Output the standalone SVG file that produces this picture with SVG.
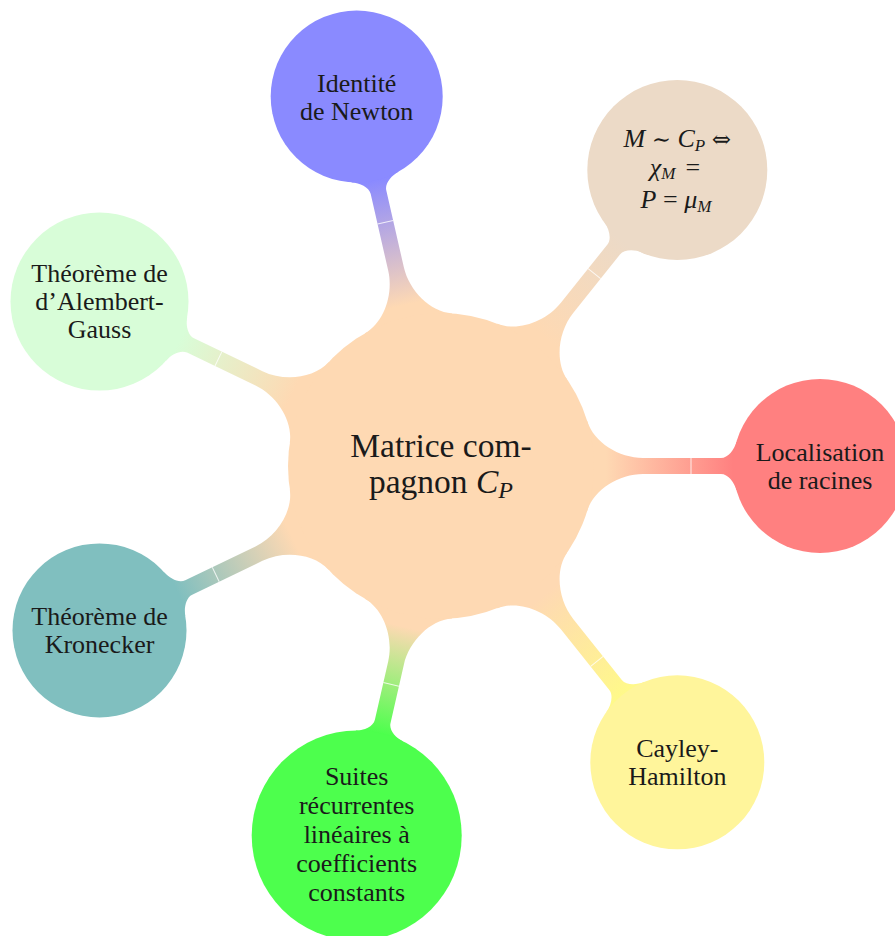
<svg xmlns="http://www.w3.org/2000/svg" width="895" height="936" viewBox="0 0 895 936">
<style>
.t{font-family:"Liberation Serif","DejaVu Serif",serif;font-size:26px;fill:#1a1a1a;text-anchor:middle}
.c{font-size:33.5px}
.i{font-style:italic}
.s{font-size:17px;font-style:italic}
.sym{font-family:"DejaVu Serif",serif;font-size:23px}
.seam{stroke:#ffffff;stroke-width:1;stroke-opacity:0.8;fill:none}
</style>
<defs>
<linearGradient id="gRed" gradientUnits="userSpaceOnUse" x1="165" y1="0" x2="292" y2="0"><stop offset="0" stop-color="#FED9B3"/><stop offset="1" stop-color="#FF8080"/></linearGradient>
<linearGradient id="gTan" gradientUnits="userSpaceOnUse" x1="165" y1="0" x2="289" y2="0"><stop offset="0" stop-color="#FED9B3"/><stop offset="1" stop-color="#ECDAC7"/></linearGradient>
<linearGradient id="gNew" gradientUnits="userSpaceOnUse" x1="165" y1="0" x2="293" y2="0"><stop offset="0" stop-color="#FED9B3"/><stop offset="1" stop-color="#8A8AFF"/></linearGradient>
<linearGradient id="gDal" gradientUnits="userSpaceOnUse" x1="165" y1="0" x2="290" y2="0"><stop offset="0" stop-color="#FED9B3"/><stop offset="1" stop-color="#D8FDD8"/></linearGradient>
<linearGradient id="gTea" gradientUnits="userSpaceOnUse" x1="165" y1="0" x2="292" y2="0"><stop offset="0" stop-color="#FED9B3"/><stop offset="1" stop-color="#80BFBF"/></linearGradient>
<linearGradient id="gGre" gradientUnits="userSpaceOnUse" x1="165" y1="0" x2="274" y2="0"><stop offset="0" stop-color="#FED9B3"/><stop offset="1" stop-color="#4DFF4D"/></linearGradient>
<linearGradient id="gYel" gradientUnits="userSpaceOnUse" x1="165" y1="0" x2="292" y2="0"><stop offset="0" stop-color="#FED9B3"/><stop offset="1" stop-color="#FFF98A"/></linearGradient>
</defs>

<g id="connectors">
  <g transform="translate(441 466) rotate(0)">
    <path fill="url(#gRed)" d="M100,-44 L146.3,-44.7 C152.7,-23.7 178,-8 202,-8 L280,-8 C287,-8 293.2,-16.3 295.4,-24 L330,-24 L330,24 L295.4,24 C293.2,16.3 287,8 280,8 L202,8 C178,8 152.7,23.7 146.3,44.7 L100,44 Z"/>
    <line class="seam" x1="250" y1="-8" x2="250" y2="8"/>
  </g>
  <g transform="translate(441 466) rotate(-51.43)">
    <path fill="url(#gTan)" d="M100,-44 L146.3,-44.7 C152.7,-23.7 178,-8 202,-8 L277,-8 C284,-8 290.2,-16.3 292.3,-24 L330,-24 L330,24 L292.3,24 C290.2,16.3 284,8 277,8 L202,8 C178,8 152.7,23.7 146.3,44.7 L100,44 Z"/>
    <line class="seam" x1="246" y1="-8" x2="246" y2="8"/>
  </g>
  <g transform="translate(441 466) rotate(-102.86)">
    <path fill="url(#gNew)" d="M100,-44 L146.3,-44.7 C152.7,-23.7 178,-8 202,-8 L281,-8 C288,-8 294.2,-16.3 296.4,-24 L330,-24 L330,24 L296.4,24 C294.2,16.3 288,8 281,8 L202,8 C178,8 152.7,23.7 146.3,44.7 L100,44 Z"/>
    <line class="seam" x1="250" y1="-8" x2="250" y2="8"/>
  </g>
  <g transform="translate(441 466) rotate(-154.29)">
    <path fill="url(#gDal)" d="M100,-44 L146.3,-44.7 C152.7,-23.7 178,-8 202,-8 L278,-8 C285,-8 291.2,-16.3 293.3,-24 L330,-24 L330,24 L293.3,24 C291.2,16.3 285,8 278,8 L202,8 C178,8 152.7,23.7 146.3,44.7 L100,44 Z"/>
    <line class="seam" x1="247" y1="-8" x2="247" y2="8"/>
  </g>
  <g transform="translate(441 466) rotate(154.29)">
    <path fill="url(#gTea)" d="M100,-44 L146.3,-44.7 C152.7,-23.7 178,-8 202,-8 L280,-8 C287,-8 293.2,-16.3 295.4,-24 L330,-24 L330,24 L295.4,24 C293.2,16.3 287,8 280,8 L202,8 C178,8 152.7,23.7 146.3,44.7 L100,44 Z"/>
    <line class="seam" x1="250" y1="-8" x2="250" y2="8"/>
  </g>
  <g transform="translate(441 466) rotate(102.86)">
    <path fill="url(#gGre)" d="M100,-44 L146.3,-44.7 C152.7,-23.7 178,-8 202,-8 L262,-8 C269,-8 275,-16.2 276.8,-24 L320,-24 L320,24 L276.8,24 C275,16.2 269,8 262,8 L202,8 C178,8 152.7,23.7 146.3,44.7 L100,44 Z"/>
    <line class="seam" x1="224" y1="-8" x2="224" y2="8"/>
  </g>
  <g transform="translate(441 466) rotate(51.43)">
    <path fill="url(#gYel)" d="M100,-44 L146.3,-44.7 C152.7,-23.7 178,-8 202,-8 L280,-8 C287,-8 293.2,-16.3 295.4,-24 L330,-24 L330,24 L295.4,24 C293.2,16.3 287,8 280,8 L202,8 C178,8 152.7,23.7 146.3,44.7 L100,44 Z"/>
    <line class="seam" x1="250" y1="-8" x2="250" y2="8"/>
  </g>
</g>

<g id="root">
  <circle cx="441" cy="466" r="153" fill="#FED9B3"/>
  <text class="t c" x="441" y="457">Matrice com-</text>
  <text class="t c" x="441" y="493">pagnon <tspan class="i">C</tspan><tspan class="i" font-size="24" dy="5">P</tspan></text>
</g>

<g id="newton">
  <circle cx="356.7" cy="96.5" r="86" fill="#8A8AFF"/>
  <text class="t" x="356.7" y="92">Identité</text>
  <text class="t" x="356.7" y="120">de Newton</text>
</g>

<g id="similitude">
  <circle cx="677.3" cy="170" r="90" fill="#ECDAC7"/>
  <text class="t" x="677.3" y="147"><tspan class="i">M</tspan> <tspan class="sym">∼</tspan> <tspan class="i">C</tspan><tspan class="s" dy="4">P</tspan><tspan dy="-4"> </tspan><tspan class="sym">⇔</tspan></text>
  <text class="t" x="675" y="176"><tspan class="i">χ</tspan><tspan class="s" dy="3">M</tspan><tspan dy="-3" dx="10">=</tspan></text>
  <text class="t" x="676" y="208"><tspan class="i">P</tspan> = <tspan class="i">μ</tspan><tspan class="s" dy="4">M</tspan></text>
</g>

<g id="localisation">
  <circle cx="820" cy="466" r="87" fill="#FF8080"/>
  <text class="t" x="820" y="461">Localisation</text>
  <text class="t" x="820" y="489">de racines</text>
</g>

<g id="cayley">
  <circle cx="677.3" cy="762.3" r="87" fill="#FFF59B"/>
  <text class="t" x="677.3" y="757">Cayley-</text>
  <text class="t" x="677.3" y="785">Hamilton</text>
</g>

<g id="suites">
  <circle cx="356.7" cy="835.5" r="105" fill="#4DFF4D"/>
  <text class="t" x="356.7" y="785">Suites</text>
  <text class="t" x="356.7" y="814">récurrentes</text>
  <text class="t" x="356.7" y="843">linéaires à</text>
  <text class="t" x="356.7" y="872">coefficients</text>
  <text class="t" x="356.7" y="901">constants</text>
</g>

<g id="kronecker">
  <circle cx="99.5" cy="630.4" r="87" fill="#80BFBF"/>
  <text class="t" x="99.5" y="625">Théorème de</text>
  <text class="t" x="99.5" y="653">Kronecker</text>
</g>

<g id="dalembert">
  <circle cx="99.5" cy="301.6" r="89" fill="#D8FDD8"/>
  <text class="t" x="99.5" y="282">Théorème de</text>
  <text class="t" x="99.5" y="310">d’Alembert-</text>
  <text class="t" x="99.5" y="338">Gauss</text>
</g>
</svg>
